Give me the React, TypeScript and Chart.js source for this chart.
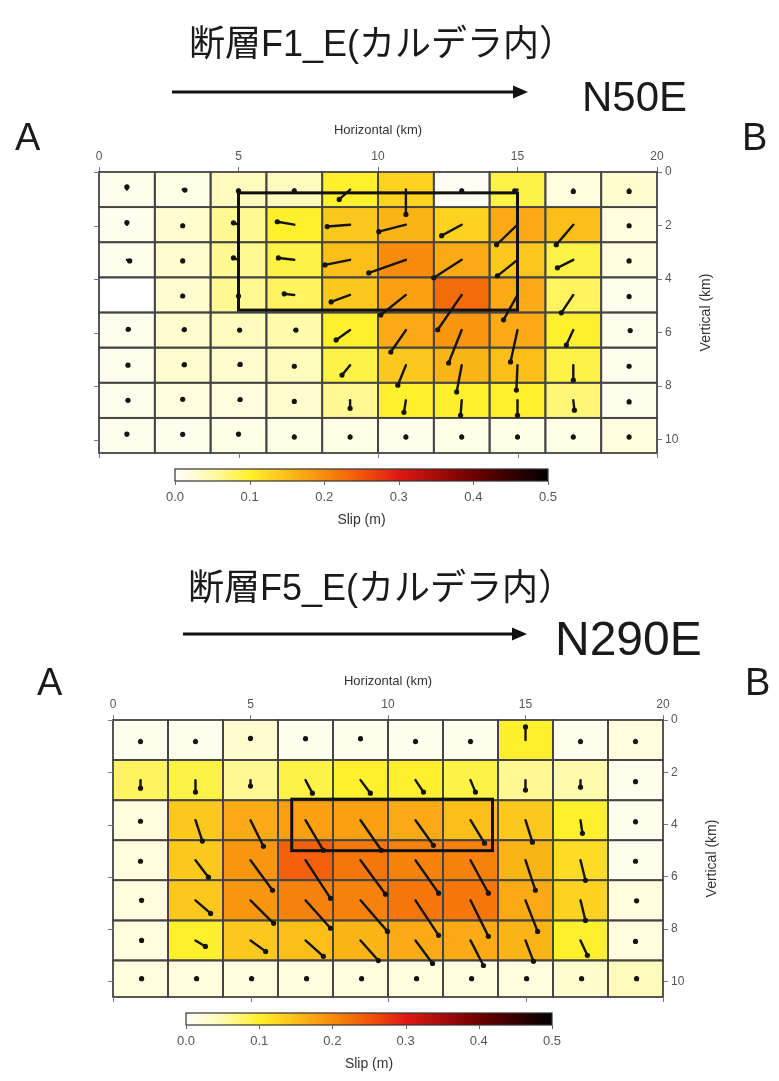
import React, { useEffect, useRef } from "react";
import { Chart, registerables } from "chart.js";

Chart.register(...registerables);

const FONT_SANS = '"Liberation Sans", Arial, sans-serif';
const FONT_TITLE = '"Liberation Sans", "Noto Sans CJK JP", sans-serif';

// ---------------- data ----------------
const X_TICKS = [0, 5, 10, 15, 20];
const Y_TICKS = [0, 2, 4, 6, 8, 10];
const SLIP_TICKS = [0, 0.1, 0.2, 0.3, 0.4, 0.5];
const COL_EDGES = [0, 2, 4, 6, 8, 10, 12, 14, 16, 18, 20];

// Fault F1_E
const F1_TITLE = "断層F1_E(カルデラ内）";
const F1_STRIKE = "N50E";
const F1_ROW_EDGES = [0, 1.3125, 2.625, 3.9375, 5.25, 6.5625, 7.875, 9.1875, 10.5];
const F1_SLIP = [
  [0.01, 0.015, 0.04, 0.04, 0.1, 0.13, 0.006, 0.09, 0.02, 0.03],
  [0.01, 0.03, 0.06, 0.1, 0.14, 0.16, 0.13, 0.17, 0.15, 0.02],
  [0.01, 0.03, 0.06, 0.09, 0.15, 0.2, 0.17, 0.14, 0.09, 0.02],
  [0.0, 0.03, 0.06, 0.08, 0.14, 0.18, 0.23, 0.17, 0.08, 0.01],
  [0.01, 0.03, 0.04, 0.05, 0.1, 0.17, 0.19, 0.17, 0.1, 0.01],
  [0.01, 0.03, 0.03, 0.04, 0.09, 0.14, 0.16, 0.15, 0.09, 0.01],
  [0.01, 0.02, 0.02, 0.03, 0.06, 0.1, 0.1, 0.1, 0.07, 0.01],
  [0.01, 0.01, 0.015, 0.015, 0.015, 0.01, 0.015, 0.015, 0.015, 0.02],
];
const F1_U = [
  [0, 0.08, 0, 0, -0.39, 0, 0, -0.1, 0, 0],
  [0, 0, -0.18, -0.61, -0.82, -0.97, -0.72, -0.75, -0.61, 0],
  [0.1, 0, -0.18, -0.57, -0.9, -1.33, -1.0, -0.72, -0.57, 0],
  [0, 0, 0, -0.36, -0.68, -0.9, -0.86, -0.5, -0.43, 0],
  [0.05, 0.06, 0.04, 0.06, -0.5, -0.54, -0.47, -0.25, -0.25, 0.04],
  [0.04, 0.06, 0.06, 0, -0.29, -0.29, -0.18, -0.04, 0, 0],
  [0.04, 0, 0.06, 0, 0, -0.07, -0.04, 0, 0.04, 0],
  [0, 0, 0, 0, 0, 0, 0, 0, 0, 0],
];
const F1_V = [
  [-0.1, 0.02, 0.05, 0.05, 0.37, 0.93, 0.05, 0.05, 0.07, 0.07],
  [-0.08, 0.04, -0.07, -0.11, 0.07, 0.26, 0.41, 0.75, 0.75, 0.04],
  [0.04, 0.04, -0.07, -0.07, 0.19, 0.49, 0.67, 0.6, 0.3, 0.04],
  [0, 0.04, 0.04, -0.04, 0.26, 0.75, 1.3, 0.93, 0.67, 0.06],
  [-0.03, -0.02, 0, 0, 0.37, 0.82, 1.23, 1.19, 0.56, 0.02],
  [0, -0.02, -0.03, 0.04, 0.37, 0.75, 1.0, 0.93, 0.56, 0.04],
  [0, -0.04, -0.03, 0.04, 0.3, 0.45, 0.56, 0.56, 0.37, 0.06],
  [-0.05, -0.04, -0.05, 0.06, 0.06, 0.06, 0.06, 0.06, 0.06, 0.06],
];
const F1_BOX = [5, 15, 0.78, 5.16]; // x0, x1, depth0, depth1 (km)

// Fault F5_E
const F5_TITLE = "断層F5_E(カルデラ内）";
const F5_STRIKE = "N290E";
const F5_ROW_EDGES = [0, 1.53, 3.07, 4.6, 6.13, 7.67, 9.2, 10.6];
const F5_SLIP = [
  [0.01, 0.01, 0.03, 0.01, 0.01, 0.01, 0.01, 0.1, 0.01, 0.02],
  [0.08, 0.09, 0.06, 0.09, 0.1, 0.1, 0.09, 0.06, 0.05, 0.01],
  [0.02, 0.14, 0.17, 0.18, 0.18, 0.17, 0.15, 0.14, 0.1, 0.01],
  [0.02, 0.14, 0.19, 0.24, 0.22, 0.21, 0.21, 0.16, 0.12, 0.01],
  [0.02, 0.14, 0.19, 0.21, 0.21, 0.22, 0.22, 0.17, 0.13, 0.02],
  [0.02, 0.1, 0.14, 0.15, 0.16, 0.17, 0.17, 0.16, 0.1, 0.02],
  [0.02, 0.02, 0.02, 0.02, 0.02, 0.02, 0.02, 0.02, 0.03, 0.04],
];
const F5_U = [
  [0, 0, 0, 0, 0, 0, 0, 0, 0, 0],
  [0, 0, 0, 0.25, 0.36, 0.29, 0.18, 0, 0, 0],
  [0, 0.25, 0.47, 0.65, 0.76, 0.65, 0.51, 0.25, 0.07, 0],
  [0, 0.47, 0.8, 0.91, 0.91, 0.84, 0.65, 0.36, 0.18, 0],
  [0.04, 0.55, 0.84, 0.91, 0.98, 0.84, 0.65, 0.44, 0.18, 0.04],
  [0.04, 0.36, 0.55, 0.65, 0.65, 0.62, 0.47, 0.29, 0.25, 0],
  [0.04, 0.04, 0.04, 0.04, 0.04, 0.04, 0.04, 0.04, 0.04, 0.04],
];
const F5_V = [
  [0.06, 0.06, -0.06, -0.05, -0.05, 0.06, 0.06, -0.5, 0.06, 0.06],
  [0.31, 0.46, 0.23, 0.5, 0.5, 0.46, 0.46, 0.38, 0.27, 0.06],
  [0.04, 0.8, 1.0, 1.15, 1.15, 0.96, 0.88, 0.84, 0.5, 0.06],
  [0.04, 0.65, 1.15, 1.46, 1.3, 1.26, 1.26, 1.15, 0.77, 0.04],
  [0, 0.5, 0.88, 1.07, 1.19, 1.34, 1.38, 1.19, 0.77, 0.02],
  [0, 0.23, 0.42, 0.61, 0.77, 0.88, 0.96, 0.8, 0.57, 0.04],
  [0, 0, 0, 0, 0, 0, 0, 0, 0, 0],
];
const F5_BOX = [6.5, 13.8, 3.03, 5.0];

// ---------------- colour map (style) ----------------
const CMAP: [number, number[]][] = [
  [0.0, [255, 255, 255]],
  [0.05, [255, 250, 172]],
  [0.1, [255, 240, 45]],
  [0.15, [252, 190, 25]],
  [0.2, [248, 140, 12]],
  [0.25, [240, 85, 10]],
  [0.3, [222, 25, 20]],
  [0.4, [110, 0, 0]],
  [0.5, [0, 0, 0]],
];
function rgbFor(s: number): number[] {
  if (s <= CMAP[0][0]) return CMAP[0][1];
  for (let i = 1; i < CMAP.length; i++) {
    const [s1, c1] = CMAP[i];
    const [s0, c0] = CMAP[i - 1];
    if (s <= s1) {
      const t = (s - s0) / (s1 - s0);
      return c0.map((v, k) => Math.round(v + (c1[k] - v) * t));
    }
  }
  return CMAP[CMAP.length - 1][1];
}
const rgbStr = (c: number[]) => `rgb(${c[0]},${c[1]},${c[2]})`;

type PanelCfg = {
  top: number;
  height: number;
  pad: { left: number; right: number; top: number; bottom: number };
  yMax: number;
  xTitlePad: number;
  title: string;
  strike: string;
  rowEdges: number[];
  slip: number[][];
  u: number[][];
  v: number[][];
  box: number[];
  titleX: number;
  titleY: number;
  arrow: { x0: number; x1: number; y: number };
  strikeX: number;
  strikeY: number;
  strikeSize: number;
  aX: number;
  bX: number;
  abY: number;
  cbar: { x0: number; x1: number; y: number; h: number };
};

function makePlugin(p: PanelCfg) {
  return {
    id: "faultPanel",
    beforeDatasetsDraw(chart: any) {
      const ctx: CanvasRenderingContext2D = chart.ctx;
      const xs = chart.scales.x;
      const ys = chart.scales.y;
      ctx.save();
      const nR = p.rowEdges.length - 1;
      const nC = COL_EDGES.length - 1;
      // cells
      for (let r = 0; r < nR; r++) {
        for (let c = 0; c < nC; c++) {
          const x0 = xs.getPixelForValue(COL_EDGES[c]);
          const x1 = xs.getPixelForValue(COL_EDGES[c + 1]);
          const y0 = ys.getPixelForValue(p.rowEdges[r]);
          const y1 = ys.getPixelForValue(p.rowEdges[r + 1]);
          ctx.fillStyle = rgbStr(rgbFor(p.slip[r][c]));
          ctx.fillRect(x0, y0, x1 - x0, y1 - y0);
        }
      }
      ctx.strokeStyle = "#444";
      ctx.lineWidth = 1.8;
      for (let r = 0; r < nR; r++) {
        for (let c = 0; c < nC; c++) {
          const x0 = xs.getPixelForValue(COL_EDGES[c]);
          const x1 = xs.getPixelForValue(COL_EDGES[c + 1]);
          const y0 = ys.getPixelForValue(p.rowEdges[r]);
          const y1 = ys.getPixelForValue(p.rowEdges[r + 1]);
          ctx.strokeRect(x0, y0, x1 - x0, y1 - y0);
        }
      }
      // slip vectors
      ctx.strokeStyle = "#141414";
      ctx.fillStyle = "#141414";
      ctx.lineWidth = 2.4;
      ctx.lineCap = "round";
      for (let r = 0; r < nR; r++) {
        for (let c = 0; c < nC; c++) {
          const u = p.u[r][c];
          const v = p.v[r][c];
          if (u === 0 && v === 0) continue;
          const cx = (COL_EDGES[c] + COL_EDGES[c + 1]) / 2;
          const cy = (p.rowEdges[r] + p.rowEdges[r + 1]) / 2;
          const px0 = xs.getPixelForValue(cx);
          const py0 = ys.getPixelForValue(cy);
          const px1 = xs.getPixelForValue(cx + u);
          const py1 = ys.getPixelForValue(cy + v);
          ctx.beginPath();
          ctx.moveTo(px0, py0);
          ctx.lineTo(px1, py1);
          ctx.stroke();
          ctx.beginPath();
          ctx.arc(px1, py1, 2.6, 0, Math.PI * 2);
          ctx.fill();
        }
      }
      // asperity rectangle
      const bx0 = xs.getPixelForValue(p.box[0]);
      const bx1 = xs.getPixelForValue(p.box[1]);
      const by0 = ys.getPixelForValue(p.box[2]);
      const by1 = ys.getPixelForValue(p.box[3]);
      ctx.strokeStyle = "#111";
      ctx.lineWidth = 3;
      ctx.lineCap = "butt";
      ctx.strokeRect(bx0, by0, bx1 - bx0, by1 - by0);
      // left and bottom tick marks (no labels)
      const ca = chart.chartArea;
      ctx.strokeStyle = "#777";
      ctx.lineWidth = 1;
      ctx.beginPath();
      for (const t of Y_TICKS) {
        const y = Math.round(ys.getPixelForValue(t)) + 0.5;
        ctx.moveTo(ca.left, y);
        ctx.lineTo(ca.left - 5, y);
      }
      for (const t of X_TICKS) {
        const x = Math.round(xs.getPixelForValue(t)) + 0.5;
        ctx.moveTo(x, ca.bottom);
        ctx.lineTo(x, ca.bottom + 5);
      }
      ctx.stroke();
      ctx.restore();
    },
    afterDraw(chart: any) {
      const ctx: CanvasRenderingContext2D = chart.ctx;
      const ca = chart.chartArea;
      ctx.save();
      // title
      ctx.fillStyle = "#1a1a1a";
      ctx.font = `36px ${FONT_TITLE}`;
      ctx.textAlign = "center";
      ctx.textBaseline = "alphabetic";
      ctx.fillText(p.title, p.titleX, p.titleY);
      // direction arrow
      const a = p.arrow;
      ctx.strokeStyle = "#111";
      ctx.lineWidth = 3;
      ctx.beginPath();
      ctx.moveTo(a.x0, a.y);
      ctx.lineTo(a.x1 - 10, a.y);
      ctx.stroke();
      ctx.fillStyle = "#111";
      ctx.beginPath();
      ctx.moveTo(a.x1, a.y);
      ctx.lineTo(a.x1 - 15, a.y - 6.5);
      ctx.lineTo(a.x1 - 15, a.y + 6.5);
      ctx.closePath();
      ctx.fill();
      // strike label
      ctx.fillStyle = "#1a1a1a";
      ctx.textAlign = "left";
      ctx.font = `${p.strikeSize}px ${FONT_SANS}`;
      ctx.fillText(p.strike, p.strikeX, p.strikeY);
      // A / B
      ctx.font = `38px ${FONT_SANS}`;
      ctx.fillText("A", p.aX, p.abY);
      ctx.fillText("B", p.bX, p.abY);
      // vertical axis title
      ctx.save();
      ctx.translate(ca.right + 49, (ca.top + ca.bottom) / 2);
      ctx.rotate(-Math.PI / 2);
      ctx.font = `14px ${FONT_SANS}`;
      ctx.fillStyle = "#333";
      ctx.textAlign = "center";
      ctx.textBaseline = "middle";
      ctx.fillText("Vertical (km)", 0, 0);
      ctx.restore();
      // colour bar
      const cb = p.cbar;
      const smax = SLIP_TICKS[SLIP_TICKS.length - 1];
      const g = ctx.createLinearGradient(cb.x0, 0, cb.x1, 0);
      for (const [s, c] of CMAP) g.addColorStop(s / smax, rgbStr(c));
      ctx.fillStyle = g;
      ctx.fillRect(cb.x0, cb.y, cb.x1 - cb.x0, cb.h);
      ctx.strokeStyle = "#333";
      ctx.lineWidth = 1.2;
      ctx.strokeRect(cb.x0, cb.y, cb.x1 - cb.x0, cb.h);
      ctx.beginPath();
      ctx.strokeStyle = "#666";
      ctx.lineWidth = 1;
      for (const t of SLIP_TICKS) {
        const x = cb.x0 + ((cb.x1 - cb.x0) * t) / smax;
        ctx.moveTo(Math.round(x) + 0.5, cb.y + cb.h);
        ctx.lineTo(Math.round(x) + 0.5, cb.y + cb.h + 4);
      }
      ctx.stroke();
      ctx.fillStyle = "#555";
      ctx.font = `13px ${FONT_SANS}`;
      ctx.textAlign = "center";
      ctx.textBaseline = "middle";
      for (const t of SLIP_TICKS) {
        const x = cb.x0 + ((cb.x1 - cb.x0) * t) / smax;
        ctx.fillText(t.toFixed(1), x, cb.y + cb.h + 16);
      }
      ctx.fillStyle = "#333";
      ctx.font = `14px ${FONT_SANS}`;
      ctx.fillText("Slip (m)", (cb.x0 + cb.x1) / 2, cb.y + cb.h + 39);
      ctx.restore();
    },
  };
}

const PANEL1: PanelCfg = {
  top: 0,
  height: 540,
  pad: { left: 99, right: 62, top: 112, bottom: 87 },
  yMax: 10.5,
  xTitlePad: 11,
  title: F1_TITLE,
  strike: F1_STRIKE,
  rowEdges: F1_ROW_EDGES,
  slip: F1_SLIP,
  u: F1_U,
  v: F1_V,
  box: F1_BOX,
  titleX: 382,
  titleY: 56,
  arrow: { x0: 172, x1: 528, y: 92 },
  strikeX: 582,
  strikeY: 111,
  strikeSize: 42,
  aX: 15,
  bX: 742,
  abY: 150,
  cbar: { x0: 175, x1: 548, y: 469, h: 12 },
};

const PANEL2: PanelCfg = {
  top: 540,
  height: 541,
  pad: { left: 113, right: 56, top: 120, bottom: 84 },
  yMax: 10.6,
  xTitlePad: 14,
  title: F5_TITLE,
  strike: F5_STRIKE,
  rowEdges: F5_ROW_EDGES,
  slip: F5_SLIP,
  u: F5_U,
  v: F5_V,
  box: F5_BOX,
  titleX: 381,
  titleY: 60,
  arrow: { x0: 183, x1: 527, y: 94 },
  strikeX: 555,
  strikeY: 115,
  strikeSize: 48,
  aX: 37,
  bX: 745,
  abY: 155,
  cbar: { x0: 186, x1: 552, y: 473, h: 12 },
};

function Panel({ cfg }: { cfg: PanelCfg }) {
  const ref = useRef<HTMLCanvasElement | null>(null);
  useEffect(() => {
    if (!ref.current) return;
    const p = cfg;
    const chart = new Chart(ref.current, {
      type: "scatter",
      data: { datasets: [{ data: [], pointRadius: 0 }] },
      options: {
        animation: false,
        responsive: false,
        devicePixelRatio: 1,
        layout: { padding: p.pad },
        plugins: { legend: { display: false }, tooltip: { enabled: false } },
        scales: {
          x: {
            type: "linear",
            position: "top",
            min: 0,
            max: 20,
            afterBuildTicks: (s: any) => {
              s.ticks = X_TICKS.map((v) => ({ value: v }));
            },
            afterFit: (s: any) => {
              s.height = 60;
            },
            grid: { drawOnChartArea: false, drawTicks: true, tickLength: 5, color: "#777" },
            border: { display: false },
            ticks: { font: { size: 12, family: FONT_SANS }, color: "#555", padding: 3, maxRotation: 0 },
            title: {
              display: true,
              text: "Horizontal (km)",
              font: { size: 13, family: FONT_SANS },
              color: "#333",
              padding: { top: p.xTitlePad, bottom: 0 },
            },
          },
          y: {
            type: "linear",
            position: "right",
            reverse: true,
            min: 0,
            max: p.yMax,
            afterBuildTicks: (s: any) => {
              s.ticks = Y_TICKS.map((v) => ({ value: v }));
            },
            afterFit: (s: any) => {
              s.width = 60;
            },
            grid: { drawOnChartArea: false, drawTicks: true, tickLength: 5, color: "#777" },
            border: { display: false },
            ticks: { font: { size: 12, family: FONT_SANS }, color: "#555", padding: 3 },
          },
        },
      } as any,
      plugins: [makePlugin(p) as any],
    });
    return () => chart.destroy();
  }, [cfg]);
  return (
    <canvas
      ref={ref}
      width={779}
      height={cfg.height}
      style={{ position: "absolute", left: 0, top: cfg.top, display: "block" }}
    />
  );
}

export default function App() {
  return (
    <div style={{ position: "absolute", left: 0, top: 0, width: 779, height: 1081, background: "#fff" }}>
      <Panel cfg={PANEL1} />
      <Panel cfg={PANEL2} />
    </div>
  );
}
